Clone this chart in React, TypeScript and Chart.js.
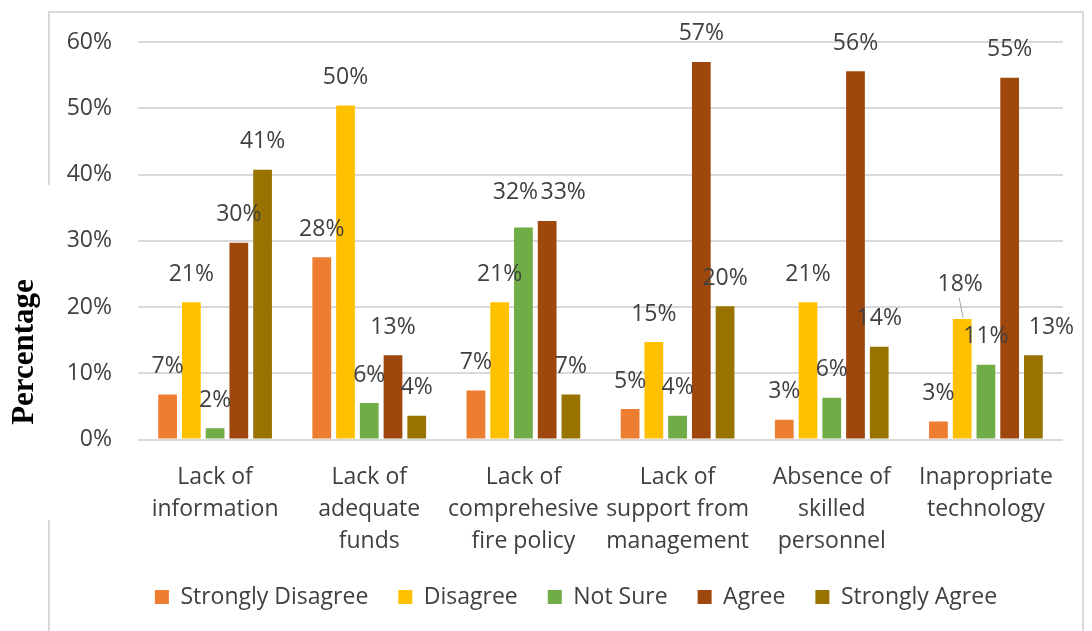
import React, { useEffect, useRef } from "react";
import { Chart, registerables } from "chart.js";

Chart.register(...registerables);

const categories: string[][] = [
  ["Lack of", "information"],
  ["Lack of", "adequate", "funds"],
  ["Lack of", "comprehesive", "fire policy"],
  ["Lack of", "support from", "management"],
  ["Absence of", "skilled", "personnel"],
  ["Inapropriate", "technology"],
];

const seriesNames = ["Strongly Disagree", "Disagree", "Not Sure", "Agree", "Strongly Agree"];

const stronglyDisagree = [6.8, 27.5, 7.4, 4.6, 3.0, 2.7];
const disagree = [20.7, 50.4, 20.7, 14.7, 20.7, 18.2];
const notSure = [1.7, 5.5, 32.0, 3.6, 6.3, 11.3];
const agree = [29.7, 12.7, 33.0, 57.0, 55.6, 54.6];
const stronglyAgree = [40.7, 3.6, 6.8, 20.1, 14.0, 12.7];

const yTickValues = [0, 10, 20, 30, 40, 50, 60];

const seriesColors = ["#ED7D31", "#FFC000", "#70AD47", "#9E480E", "#997300"];

// label nudges (dataset index, category index) -> [dx, dy, leader line]
const labelNudges: Record<string, [number, number, boolean]> = {
  "2-2": [-8, -7, false],
  "3-2": [16, 0, false],
  "1-5": [-2, -6, true],
  "4-5": [18, 0, false],
};

const FONT = "'Open Sans', Lato, sans-serif";
const FS = 23;
const TEXT = "#404040";

const framePlugin = {
  id: "frame",
  beforeDraw(chart: any) {
    const ctx = chart.ctx;
    ctx.save();
    ctx.fillStyle = "#ffffff";
    ctx.fillRect(0, 0, chart.width, chart.height);
    ctx.strokeStyle = "#d9d9d9";
    ctx.lineWidth = 2;
    ctx.beginPath();
    ctx.moveTo(49, 185);
    ctx.lineTo(49, 12);
    ctx.lineTo(1083, 12);
    ctx.lineTo(1083, 640);
    ctx.moveTo(49, 520);
    ctx.lineTo(49, 640);
    ctx.stroke();
    ctx.restore();
  },
  afterLayout(chart: any) {
    if (chart.legend) {
      chart.legend.left = 89;
    }
  },
  afterDraw(chart: any) {
    const ctx = chart.ctx;
    ctx.save();
    ctx.translate(33, 352);
    ctx.rotate(-Math.PI / 2);
    ctx.font = "bold 31px 'Liberation Serif', 'Times New Roman', serif";
    ctx.fillStyle = "#000000";
    ctx.textAlign = "center";
    ctx.textBaseline = "alphabetic";
    ctx.fillText("Percentage", 0, 0);
    ctx.restore();
  },
};

const dataLabelPlugin = {
  id: "dataLabels",
  afterDatasetsDraw(chart: any) {
    const ctx = chart.ctx;
    ctx.save();
    ctx.font = `${FS}px ${FONT}`;
    ctx.fillStyle = TEXT;
    ctx.textAlign = "center";
    ctx.textBaseline = "middle";
    chart.data.datasets.forEach((ds: any, di: number) => {
      const meta = chart.getDatasetMeta(di);
      meta.data.forEach((el: any, i: number) => {
        const v = ds.data[i] as number;
        const nudge = labelNudges[`${di}-${i}`] || [0, 0, false];
        const x = el.x + nudge[0];
        const y = el.y - 28 + nudge[1];
        if (nudge[2]) {
          ctx.strokeStyle = "#a6a6a6";
          ctx.lineWidth = 1;
          ctx.beginPath();
          ctx.moveTo(x - 1, y + 13);
          ctx.lineTo(el.x + 1, el.y - 1);
          ctx.stroke();
        }
        ctx.fillText(`${Math.round(v)}%`, x, y);
      });
    });
    ctx.restore();
  },
};

export default function App() {
  const ref = useRef<HTMLCanvasElement>(null);

  useEffect(() => {
    document.body.style.margin = "0";
    const seriesData = [stronglyDisagree, disagree, notSure, agree, stronglyAgree];
    const chart = new Chart(ref.current as HTMLCanvasElement, {
      type: "bar",
      data: {
        labels: categories,
        datasets: seriesNames.map((name, i) => ({
          label: name,
          data: seriesData[i],
          backgroundColor: seriesColors[i],
          borderWidth: 0,
          categoryPercentage: 0.77,
          barPercentage: 0.79,
        })),
      },
      options: {
        animation: false,
        responsive: false,
        layout: { padding: { left: 0, right: 29, top: 42, bottom: 12.5 } },
        plugins: {
          legend: {
            position: "bottom",
            labels: {
              boxWidth: 14,
              boxHeight: 14,
              padding: 30,
              color: TEXT,
              font: { size: FS, family: FONT },
            },
          },
          tooltip: { enabled: false },
        },
        scales: {
          x: {
            grid: { display: false, drawTicks: false },
            border: { display: false },
            ticks: {
              color: TEXT,
              font: { size: FS, family: FONT, lineHeight: 32 / FS },
              padding: 22,
              maxRotation: 0,
              autoSkip: false,
            },
            afterFit: (scale: any) => {
              scale.height = 116;
            },
          },
          y: {
            min: 0,
            max: 60,
            afterBuildTicks: (scale: any) => {
              scale.ticks = yTickValues.map((v) => ({ value: v }));
            },
            grid: { color: "#d9d9d9", lineWidth: 2, drawTicks: false },
            border: { display: false },
            ticks: {
              color: TEXT,
              font: { size: FS, family: FONT },
              padding: 26,
              callback: (v: any) => `${v}%`,
            },
            afterFit: (scale: any) => {
              scale.width = 138;
            },
          },
        },
      },
      plugins: [framePlugin, dataLabelPlugin],
    });
    return () => chart.destroy();
  }, []);

  return <canvas ref={ref} width={1092} height={631} style={{ display: "block" }} />;
}
